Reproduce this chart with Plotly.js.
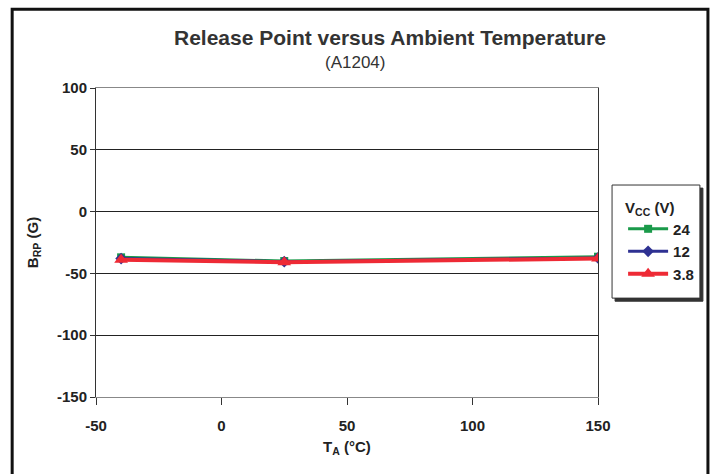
<!DOCTYPE html>
<html>
<head>
<meta charset="utf-8">
<script src="https://cdn.plot.ly/plotly-3.0.1.min.js"></script>
<style>html,body{margin:0;padding:0;background:#fff;}#chart{width:722px;height:474px;}</style>
</head>
<body>
<div id="chart"></div>
<script>
const temps = [-40, 25, 150];
const v24 = [-37, -40, -36.5];
const v12 = [-38, -40.5, -37.5];
const v38 = [-39, -41, -38];
const seriesNames = ['24', '12', '3.8'];
const xTicks = [-50, 0, 50, 100, 150];
const yTicks = [-150, -100, -50, 0, 50, 100];

const font = {family: 'Liberation Sans, Arial, sans-serif', color: '#222'};
const traces = [
  {x: temps, y: v24, name: seriesNames[0], mode: 'lines+markers',
   line: {color: '#1a9a4a', width: 3}, marker: {symbol: 'square', size: 8, color: '#1a9a4a'}},
  {x: temps, y: v12, name: seriesNames[1], mode: 'lines+markers',
   line: {color: '#2e3192', width: 3}, marker: {symbol: 'diamond', size: 9, color: '#2e3192'}},
  {x: temps, y: v38, name: seriesNames[2], mode: 'lines+markers',
   line: {color: '#ee2a35', width: 4}, marker: {symbol: 'triangle-up', size: 12, color: '#ee2a35'}}
];

const layout = {
  width: 722, height: 474,
  margin: {l: 96, r: 124, t: 88, b: 77},
  paper_bgcolor: '#fff', plot_bgcolor: '#fff',
  font: font,
  showlegend: true,
  legend: {
    x: 1.05, y: 0.66, xanchor: 'left', yanchor: 'top',
    bgcolor: 'rgba(0,0,0,0)', borderwidth: 0,
    font: {family: font.family, size: 15, color: '#222', weight: 'bold'},
    title: {text: '<b>V<sub>CC</sub> (V)</b>', font: {family: font.family, size: 15, color: '#222'}},
    itemwidth: 40, tracegroupgap: 0
  },
  xaxis: {
    range: [-50, 150], tickvals: xTicks, ticktext: xTicks.map(String),
    showgrid: false, zeroline: false,
    showline: true, linecolor: '#888', linewidth: 1, mirror: true,
    ticks: 'outside', ticklen: 7, tickcolor: '#333',
    ticklabelstandoff: 8,
    tickfont: {family: font.family, size: 15, color: '#222', weight: 'bold'},
    title: {text: '<b>T<sub>A</sub> (°C)</b>', font: {family: font.family, size: 15, color: '#222'}, standoff: 8}
  },
  yaxis: {
    range: [-150, 100], tickvals: yTicks, ticktext: yTicks.map(String),
    showgrid: true, gridcolor: '#222', gridwidth: 1,
    zeroline: false,
    showline: true, linecolor: '#333', linewidth: 1, mirror: true,
    ticks: 'outside', ticklen: 5, tickcolor: '#333',
    tickfont: {family: font.family, size: 15, color: '#222', weight: 'bold'},
    title: {text: '<b>B<sub>RP</sub> (G)</b>', font: {family: font.family, size: 15, color: '#222'}, standoff: 14}
  },
  annotations: [
    {xref: 'paper', yref: 'paper', x: 0.586, y: 1.165, xanchor: 'center', yanchor: 'middle', showarrow: false,
     text: '<b>Release Point versus Ambient Temperature</b>', font: {family: font.family, size: 21, color: '#333'}},
    {xref: 'paper', yref: 'paper', x: 0.516, y: 1.084, xanchor: 'center', yanchor: 'middle', showarrow: false,
     text: '(A1204)', font: {family: font.family, size: 17, color: '#333'}}
  ],
  shapes: [
    {type: 'rect', xref: 'paper', yref: 'paper', x0: -0.167, x1: 1.219, y0: -0.4, y1: 1.255,
     line: {color: '#111', width: 3}, fillcolor: 'rgba(0,0,0,0)', layer: 'below'},
    {type: 'rect', xref: 'paper', yref: 'paper', x0: 1.034, x1: 1.209, y0: 0.31, y1: 0.676,
     line: {color: '#333', width: 1}, fillcolor: '#333', layer: 'below'},
    {type: 'rect', xref: 'paper', yref: 'paper', x0: 1.028, x1: 1.203, y0: 0.32, y1: 0.686,
     line: {color: '#333', width: 1}, fillcolor: '#fff', layer: 'below'}
  ]
};

Plotly.newPlot('chart', traces, layout, {displayModeBar: false, staticPlot: true});
</script>
</body>
</html>
